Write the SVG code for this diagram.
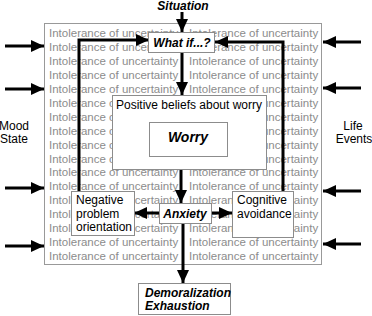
<svg xmlns="http://www.w3.org/2000/svg" width="372" height="316" viewBox="0 0 372 316">
<style>
.bg{fill:#fff;stroke:#999;stroke-width:1}
.iu{font-family:"Liberation Sans",Arial,sans-serif;font-size:11.5px;fill:#8c8c8c}
.box{fill:#fff;stroke:#8c8c8c;stroke-width:1}
.t{font-family:"Liberation Sans",Arial,sans-serif;font-size:12px;fill:#000}
.bi{font-family:"Liberation Sans",Arial,sans-serif;font-size:12px;font-weight:bold;font-style:italic;fill:#000}
.c{fill:none;stroke:#000;stroke-width:3;marker-end:url(#ah)}
</style>
<defs>
<marker id="ah" markerUnits="userSpaceOnUse" markerWidth="14" markerHeight="14" viewBox="0 0 14 14" refX="13" refY="7" orient="auto">
<path d="M0,1 L13,7 L0,13 Z" fill="#000"/>
</marker>
</defs>
<rect width="372" height="316" fill="#fff"/>
<rect class="bg" x="44.5" y="23.5" width="277" height="241"/>
<g id="background-text">
<text class="iu" x="49" y="37">Intolerance of uncertainty</text><text class="iu" x="189" y="37">Intolerance of uncertainty</text>
<text class="iu" x="49" y="50.9">Intolerance of uncertainty</text><text class="iu" x="189" y="50.9">Intolerance of uncertainty</text>
<text class="iu" x="49" y="64.9">Intolerance of uncertainty</text><text class="iu" x="189" y="64.9">Intolerance of uncertainty</text>
<text class="iu" x="49" y="78.8">Intolerance of uncertainty</text><text class="iu" x="189" y="78.8">Intolerance of uncertainty</text>
<text class="iu" x="49" y="92.8">Intolerance of uncertainty</text><text class="iu" x="189" y="92.8">Intolerance of uncertainty</text>
<text class="iu" x="49" y="106.7">Intolerance of uncertainty</text><text class="iu" x="189" y="106.7">Intolerance of uncertainty</text>
<text class="iu" x="49" y="120.6">Intolerance of uncertainty</text><text class="iu" x="189" y="120.6">Intolerance of uncertainty</text>
<text class="iu" x="49" y="134.6">Intolerance of uncertainty</text><text class="iu" x="189" y="134.6">Intolerance of uncertainty</text>
<text class="iu" x="49" y="148.5">Intolerance of uncertainty</text><text class="iu" x="189" y="148.5">Intolerance of uncertainty</text>
<text class="iu" x="49" y="162.5">Intolerance of uncertainty</text><text class="iu" x="189" y="162.5">Intolerance of uncertainty</text>
<text class="iu" x="49" y="176.4">Intolerance of uncertainty</text><text class="iu" x="189" y="176.4">Intolerance of uncertainty</text>
<text class="iu" x="49" y="190.3">Intolerance of uncertainty</text><text class="iu" x="189" y="190.3">Intolerance of uncertainty</text>
<text class="iu" x="49" y="204.3">Intolerance of uncertainty</text><text class="iu" x="189" y="204.3">Intolerance of uncertainty</text>
<text class="iu" x="49" y="218.2">Intolerance of uncertainty</text><text class="iu" x="189" y="218.2">Intolerance of uncertainty</text>
<text class="iu" x="49" y="232.2">Intolerance of uncertainty</text><text class="iu" x="189" y="232.2">Intolerance of uncertainty</text>
<text class="iu" x="49" y="246.1">Intolerance of uncertainty</text><text class="iu" x="189" y="246.1">Intolerance of uncertainty</text>
<text class="iu" x="49" y="260">Intolerance of uncertainty</text><text class="iu" x="189" y="260">Intolerance of uncertainty</text>
</g>
<g id="connectors">
<path class="c" d="M182,12 V32"/>
<path class="c" d="M79,191 V40 H149"/>
<path class="c" d="M283,191 V42 H215"/>
<path class="c" d="M182,52 V95"/>
<path class="c" d="M181,169 V203"/>
<path class="c" d="M159,213 H134"/>
<path class="c" d="M211,213 H232"/>
<path class="c" d="M183,223 V283"/>
<path class="c" d="M5,46 H44"/>
<path class="c" d="M5,89 H44"/>
<path class="c" d="M5,188 H44"/>
<path class="c" d="M5,246 H44"/>
<path class="c" d="M361,42 H323"/>
<path class="c" d="M361,88 H323"/>
<path class="c" d="M361,191 H323"/>
<path class="c" d="M361,244 H323"/>
</g>
<g id="situation"><text class="bi" x="183" y="9.5" text-anchor="middle">Situation</text></g>
<g id="whatif"><rect class="box" x="148.5" y="32.5" width="66" height="20"/><text class="bi" x="182" y="47" text-anchor="middle">What if...?</text></g>
<g id="positive-beliefs"><rect class="box" x="112.5" y="95.5" width="154" height="74"/><text class="t" x="189" y="109" text-anchor="middle">Positive beliefs about worry</text></g>
<g id="worry"><rect class="box" x="149.5" y="122.5" width="78" height="34"/><text class="bi" x="188" y="142" text-anchor="middle" style="font-size:14px">Worry</text></g>
<g id="anxiety"><rect class="box" x="159.5" y="203.5" width="52" height="20"/><text class="bi" x="185" y="218" text-anchor="middle">Anxiety</text></g>
<g id="negative"><rect class="box" x="71.5" y="191.5" width="63" height="44"/><text class="t" x="76" y="204">Negative</text><text class="t" x="76" y="217.5">problem</text><text class="t" x="76" y="231">orientation</text></g>
<g id="cognitive"><rect class="box" x="232.5" y="191.5" width="61" height="46"/><text class="t" x="237" y="204">Cognitive</text><text class="t" x="237" y="217.5">avoidance</text></g>
<g id="demoralization"><rect class="box" x="138.5" y="283.5" width="92" height="31"/><text class="bi" x="145" y="297">Demoralization</text><text class="bi" x="145" y="310">Exhaustion</text></g>
<g id="mood"><text class="t" x="14" y="130" text-anchor="middle">Mood</text><text class="t" x="14" y="143" text-anchor="middle">State</text></g>
<g id="life"><text class="t" x="353" y="130" text-anchor="middle">Life</text><text class="t" x="354" y="143" text-anchor="middle">Events</text></g>
</svg>
